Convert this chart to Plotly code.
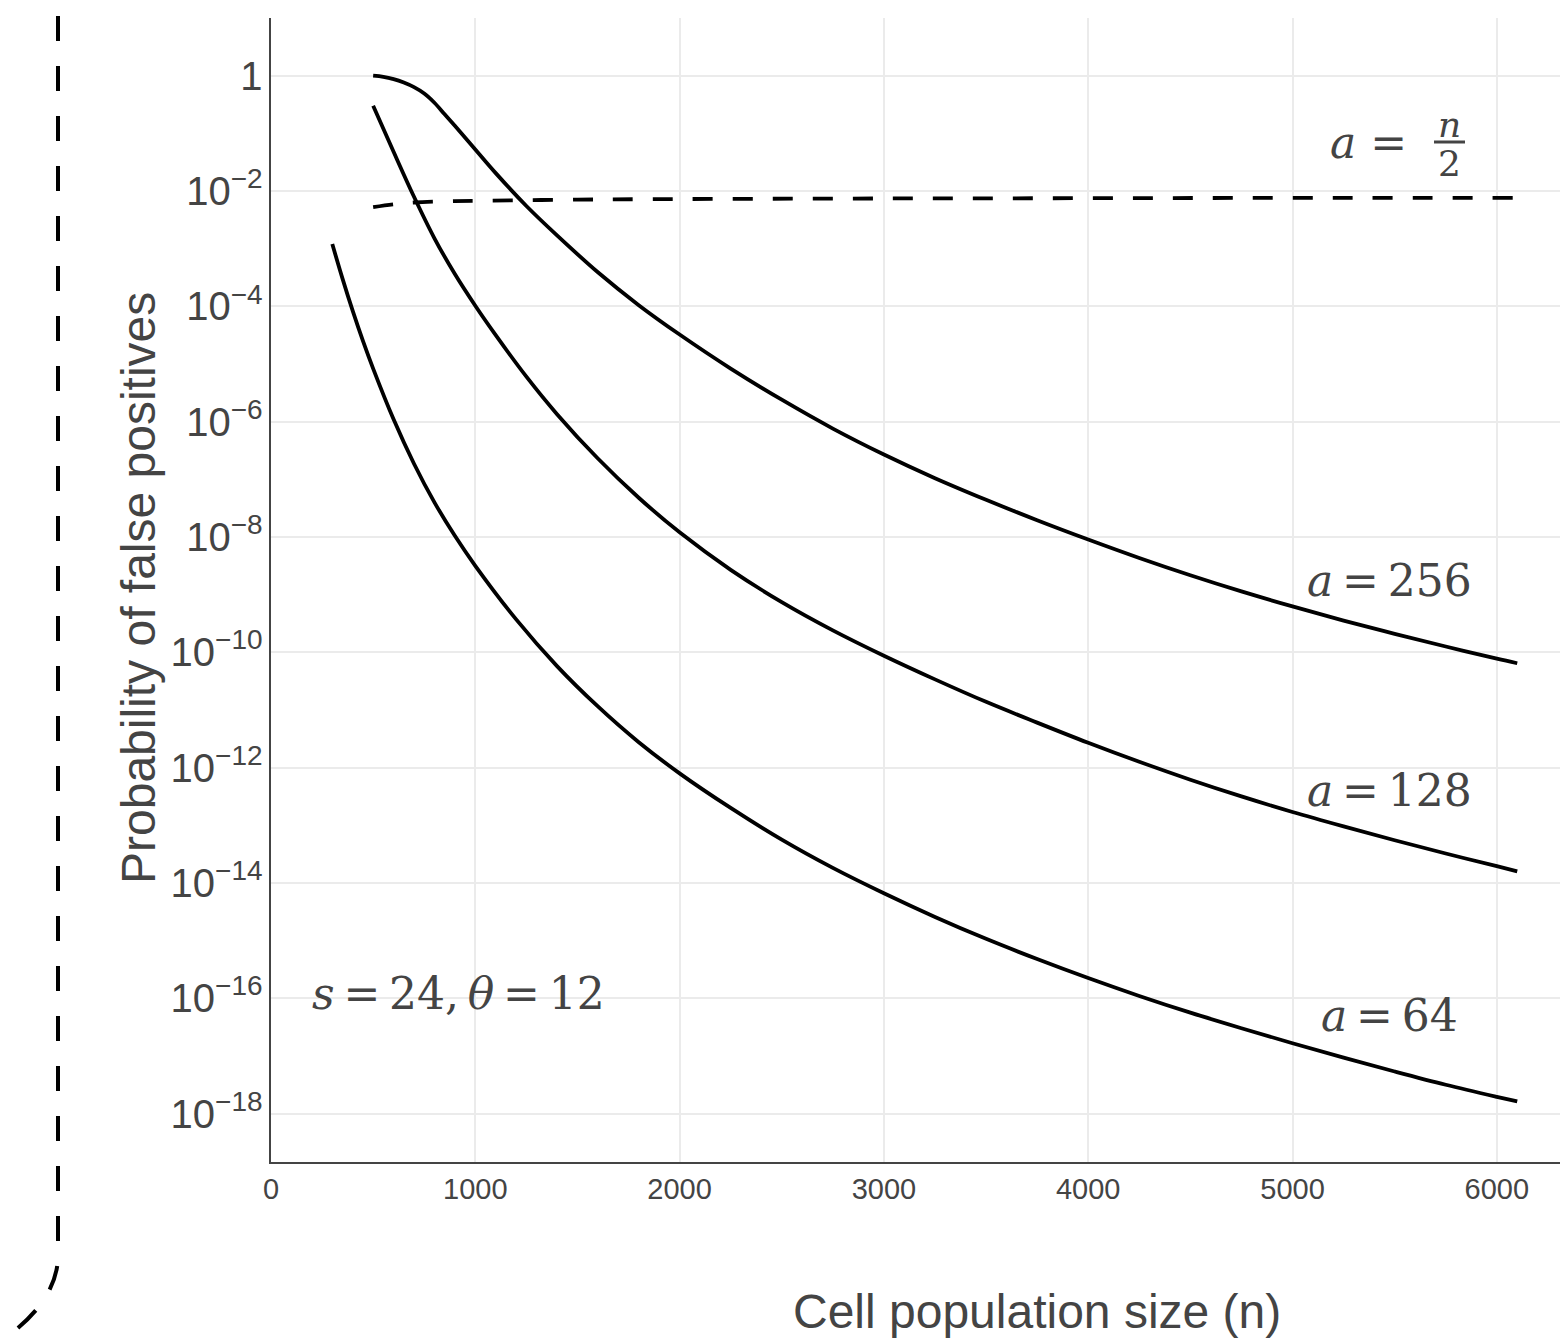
import plotly.graph_objects as go

# ---- data (y values are read as log10 of the probability) ----
n_256 = [500, 550, 600, 650, 700, 750, 800, 850, 900, 1000, 1100, 1250, 1400, 1600, 1800, 2000,
         2250, 2500, 2750, 3000, 3250, 3500, 3750, 4000, 4250, 4500, 4750, 5000, 5250, 5500,
         5750, 6000, 6100]
log_p_256 = [0.00, -0.02, -0.06, -0.12, -0.20, -0.31, -0.47, -0.67, -0.87, -1.28, -1.69, -2.26,
             -2.77, -3.41, -3.98, -4.49, -5.08, -5.62, -6.12, -6.57, -6.98, -7.355, -7.71, -8.045,
             -8.365, -8.665, -8.945, -9.205, -9.45, -9.68, -9.90, -10.11, -10.19]

n_128 = [500, 600, 700, 800, 900, 1000, 1100, 1250, 1400, 1600, 1800, 2000, 2250, 2500, 2750,
         3000, 3250, 3500, 3750, 4000, 4250, 4500, 4750, 5000, 5250, 5500, 5750, 6000, 6100]
log_p_128 = [-0.52, -1.32, -2.10, -2.82, -3.44, -3.99, -4.50, -5.22, -5.87, -6.64, -7.32, -7.92,
             -8.57, -9.13, -9.62, -10.06, -10.47, -10.86, -11.22, -11.57, -11.90, -12.21, -12.50,
             -12.77, -13.02, -13.26, -13.49, -13.71, -13.80]

n_64 = [300, 350, 400, 450, 500, 600, 700, 800, 900, 1000, 1200, 1400, 1600, 1800, 2000, 2250,
        2500, 2750, 3000, 3250, 3500, 3750, 4000, 4250, 4500, 4750, 5000, 5250, 5500, 5750,
        6000, 6100]
log_p_64 = [-2.92, -3.52, -4.08, -4.60, -5.08, -5.96, -6.73, -7.40, -7.98, -8.50, -9.43, -10.24,
            -10.94, -11.56, -12.10, -12.70, -13.25, -13.74, -14.18, -14.59, -14.97, -15.32,
            -15.65, -15.96, -16.25, -16.52, -16.78, -17.03, -17.27, -17.50, -17.71, -17.79]

n_half = [500, 600, 700, 850, 1000, 1500, 2000, 3000, 4000, 5000, 6100]
log_p_half = [-2.28, -2.23, -2.20, -2.18, -2.17, -2.15, -2.14, -2.13, -2.125, -2.12, -2.12]

x_ticks = [0, 1000, 2000, 3000, 4000, 5000, 6000]

series = [
    (n_256, log_p_256, "solid"),
    (n_128, log_p_128, "solid"),
    (n_64, log_p_64, "solid"),
    (n_half, log_p_half, "20px,20px"),
]

# ---- figure geometry ----
W, H = 1561, 1340
ML, MR, MT, MB = 271, 1, 18, 178
PW, PH = W - ML - MR, H - MT - MB


def px(x):
    return (x - ML) / PW


def py(y):
    return (MT + PH - y) / PH


fig = go.Figure()
for xs, logs, dash in series:
    fig.add_trace(go.Scatter(
        x=xs, y=[10 ** v for v in logs], mode="lines",
        line=dict(color="black", width=3.8, dash=dash, shape="spline", smoothing=1.0),
        showlegend=False, hoverinfo="skip"))

txt_col = "#444444"
serif = "DejaVu Serif, Liberation Serif, serif"
math_font = dict(family=serif, size=44, color=txt_col)
frac_font = dict(family=serif, size=36, color=txt_col)
sans = "Liberation Sans, Arial, Helvetica, sans-serif"
ts = "\u2009"  # thin space

annos = [
    dict(text=f"<i>a</i>{ts}={ts}256", x=px(1474), y=py(580), xanchor="right", yanchor="middle", font=math_font),
    dict(text=f"<i>a</i>{ts}={ts}128", x=px(1474), y=py(790), xanchor="right", yanchor="middle", font=math_font),
    dict(text=f"<i>a</i>{ts}={ts}64", x=px(1460), y=py(1015), xanchor="right", yanchor="middle", font=math_font),
    dict(text=f"<i>s</i>{ts}={ts}24,{ts}<i>θ</i>{ts}={ts}12", x=px(310), y=py(993), xanchor="left",
         yanchor="middle", font=math_font),
    dict(text="<i>a</i> =", x=px(1409), y=py(142), xanchor="right", yanchor="middle", font=math_font),
    dict(text="<i>n</i>", x=px(1449), y=py(124), xanchor="center", yanchor="middle", font=frac_font),
    dict(text="2", x=px(1449), y=py(164), xanchor="center", yanchor="middle", font=frac_font),
    dict(text="Cell population size (n)", x=px(1037), y=py(1311), xanchor="center", yanchor="middle",
         font=dict(family=sans, size=48, color=txt_col)),
    dict(text="Probability of false positives", x=px(138), y=py(588), xanchor="center", yanchor="middle",
         textangle=-90, font=dict(family=sans, size=48, color=txt_col)),
]
for a in annos:
    a.update(xref="paper", yref="paper", showarrow=False)

shapes = [
    # fraction bar
    dict(type="line", xref="paper", yref="paper", x0=px(1434), x1=px(1465), y0=py(142), y1=py(142),
         line=dict(color=txt_col, width=3)),
    # dashed decoration on the left edge
    dict(type="path", xref="paper", yref="paper",
         path=f"M {px(58)},{py(16)} L {px(58)},{py(1255)} Q {px(58)},{py(1300)} {px(5)},{py(1338)}",
         line=dict(color="black", width=4, dash="25px,25px")),
]

fig.update_layout(
    width=W, height=H,
    margin=dict(l=ML, r=MR, t=MT, b=MB, pad=0),
    paper_bgcolor="white", plot_bgcolor="white",
    font=dict(family=sans, color=txt_col),
    annotations=annos, shapes=shapes, showlegend=False,
)
fig.update_xaxes(range=[0, PW / 0.2043], tickvals=x_ticks, ticktext=[str(v) for v in x_ticks],
                 showgrid=True, gridcolor="#ebebeb", gridwidth=2, zeroline=False,
                 showline=True, linecolor="#444444", linewidth=2, ticks="",
                 tickfont=dict(size=29, color=txt_col, family=sans), ticklabelstandoff=0)
fig.update_yaxes(type="log", range=[-18.84, 1.0], dtick=2, exponentformat="power",
                 showgrid=True, gridcolor="#ebebeb", gridwidth=2, zeroline=False,
                 showline=True, linecolor="#444444", linewidth=2, ticks="",
                 tickfont=dict(size=32, color=txt_col, family=sans), ticklabelstandoff=0)

fig.write_html("out.html", config={"displayModeBar": False},
               post_script="document.body.style.margin='0';")
